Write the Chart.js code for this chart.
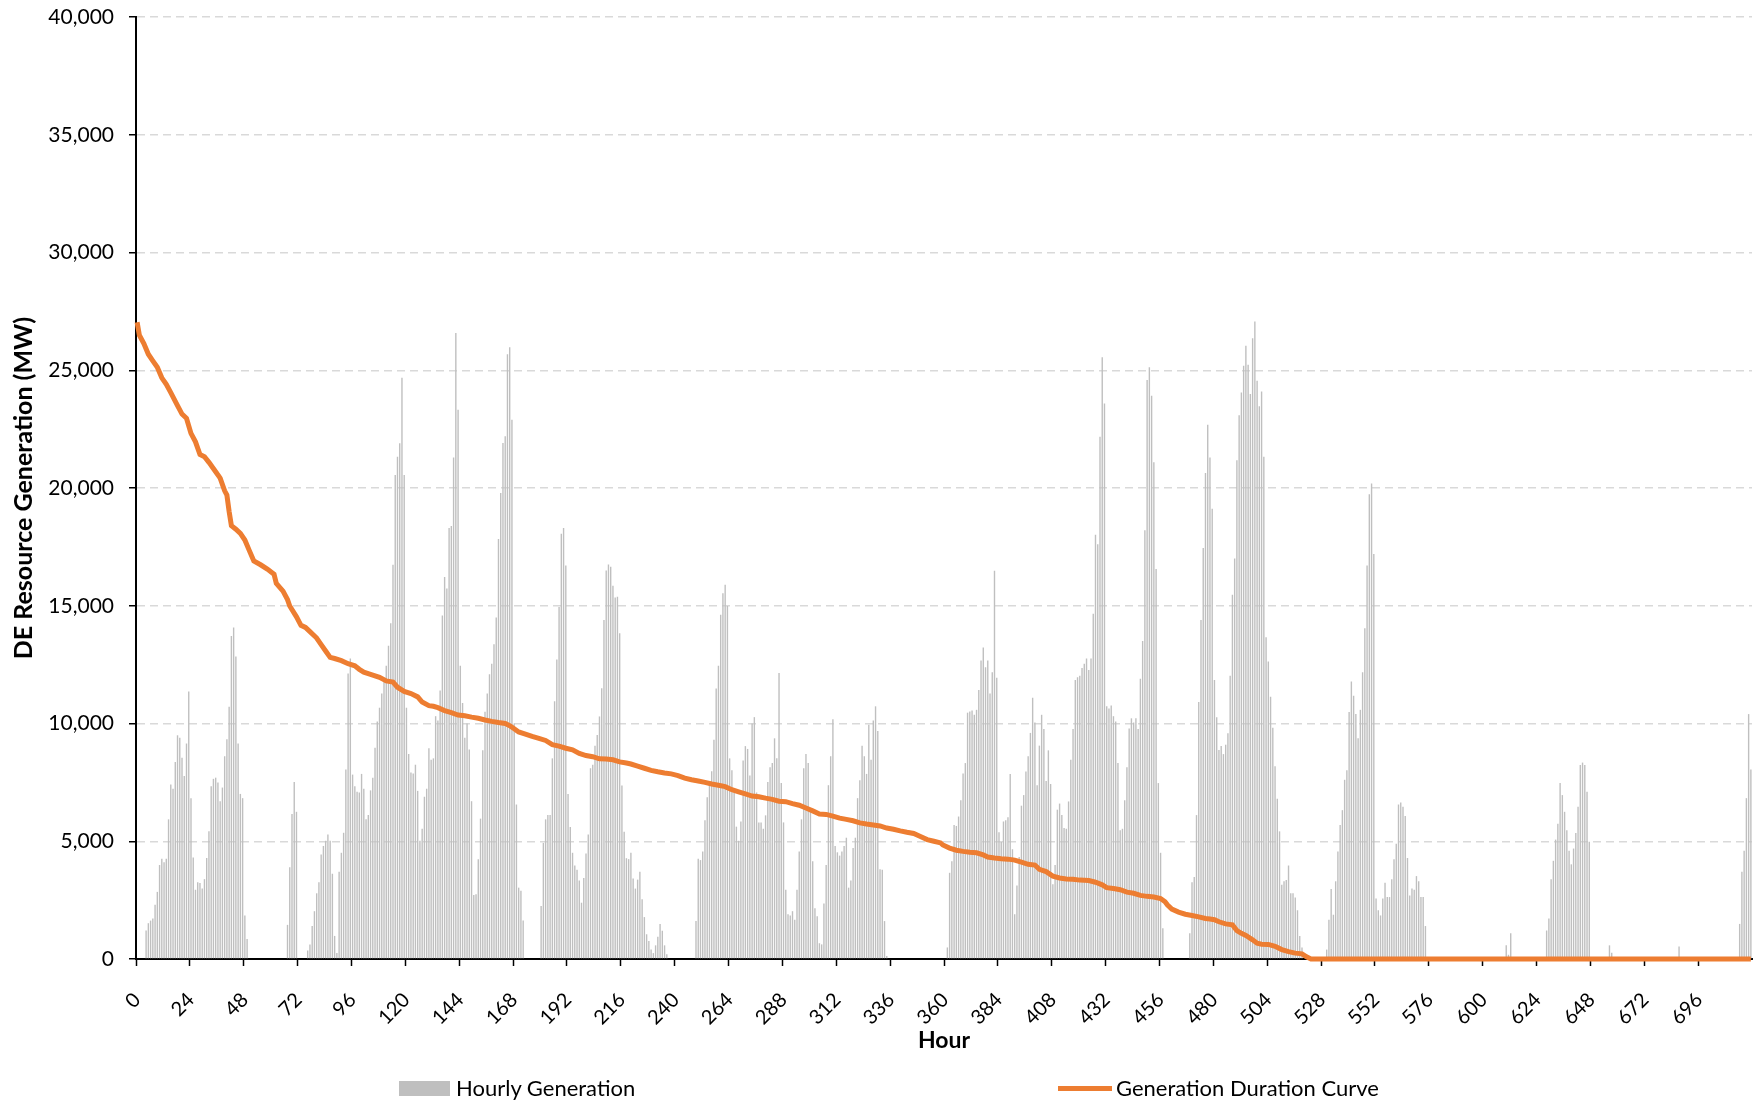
<!DOCTYPE html>
<html>
<head>
<meta charset="utf-8">
<title>DE Resource Generation</title>
<script src="https://cdn.jsdelivr.net/npm/chart.js@4.4.1/dist/chart.umd.min.js"></script>
<style>
  html, body { margin: 0; padding: 0; background: #ffffff; }
  #wrap { position: relative; width: 1754px; height: 1104px; overflow: hidden; }
  #chart { display: block; }
  .lg-swatch { position: absolute; }
  .lg-text { position: absolute; font-family: Lato, "Noto Sans", sans-serif; font-size: 22px; line-height: 30px; color: #000; white-space: nowrap; }
</style>
</head>
<body>
<div id="wrap">
  <canvas id="chart" width="1754" height="1104"></canvas>
  <div class="lg-swatch" style="left:399px; top:1081px; width:51px; height:15px; background:#BFBFBF;"></div>
  <div class="lg-text" style="left:456px; top:1073px;">Hourly Generation</div>
  <div class="lg-swatch" style="left:1058px; top:1086px; width:54px; height:5px; background:#ED7D31;"></div>
  <div class="lg-text" style="left:1116px; top:1073px;">Generation Duration Curve</div>
</div>
<script>
// Hour of the month, one category per hour
const hourLabels = Array.from({ length: 720 }, (_, i) => String(i));

// Hourly DE resource generation (MW), one row per day
const hourlyGeneration = [
  0,0,0,0,1210,1520,1630,1720,2300,2850,3990,4260,4110,4260,5930,7410,7230,8370,9500,9400,8550,7770,9150,11360,
  6830,4310,2940,3260,3230,2990,3390,4290,5420,7340,7650,7700,7500,6700,7280,8610,9330,10710,13720,14080,12850,9150,7010,6830,
  1850,850,0,0,0,0,0,0,0,0,0,0,0,0,0,0,0,0,0,1450,3900,6160,7520,6250,
  0,0,0,0,360,620,1400,2030,2790,3260,4440,4800,5020,5290,5020,3620,980,250,3700,4510,5360,8050,12120,12760,
  7830,7340,7100,7070,7860,7230,5930,6110,7160,7700,8970,10090,10670,11270,11940,12450,13300,14260,16740,20550,21330,21900,24680,20550,
  10670,8700,7920,7880,8250,7140,5020,5530,6890,7230,8950,8460,8520,10310,10130,11400,14590,16220,15730,18300,18390,21290,26580,23320,
  12450,10870,9400,10000,8900,6700,2720,2750,4240,5960,8860,10500,11270,12090,12540,13360,14500,17830,19790,21910,22200,25680,25980,22900,
  10000,6560,3030,2900,1630,0,0,0,0,0,0,0,2250,4930,5930,6110,6110,8520,10950,12720,14950,18060,18300,16710,
  7010,5600,4510,3970,3790,3330,2390,3440,4480,5290,8100,8250,9060,9510,10300,11500,14400,16500,16750,16660,15850,15350,15380,13830,
  7370,5400,4280,4240,4510,3420,2990,3370,3700,2540,1780,1050,760,400,250,580,950,1490,1200,580,200,0,0,0,
  0,0,0,0,0,0,0,0,0,1610,4260,4200,4570,5890,6870,7380,7970,9310,11490,12450,14620,15530,15890,14990,
  8520,8010,7070,5620,5020,5840,8430,9040,8920,7790,10000,10270,7070,5800,5800,5530,6100,7520,8140,8320,9370,8520,12140,7470,
  5800,2940,1900,1850,2030,1670,2940,4570,5930,8100,8700,8320,6290,4150,2160,1810,670,620,2360,3990,7380,8610,10180,4800,
  4530,4390,4570,4800,5150,3030,3330,4710,5150,6830,7590,9060,8610,7860,9950,8460,10130,10730,9680,3810,3790,1610,130,0,
  0,0,0,0,0,0,0,0,0,0,0,0,0,0,0,0,0,0,0,0,0,0,0,0,
  0,490,3660,4150,5690,5650,6050,6740,7880,8320,10460,10510,10550,10370,10580,11420,12670,13230,12390,12670,11270,12180,16490,11940,
  5380,4970,5840,5890,6020,7860,4660,1900,3120,4330,6510,6960,7960,8610,9600,11090,10040,7380,9060,10370,9770,7560,8860,7430,
  3170,3990,6340,6600,6110,5560,5530,6690,8460,9770,11850,11960,12030,12360,12540,12760,12270,12760,14660,18010,17610,22180,25550,23590,
  10730,10640,10760,10310,10090,8320,5470,5530,6740,8140,9790,10220,10040,10220,9770,11900,13500,18210,24590,25130,23920,21090,16560,7470,
  4510,1310,0,0,0,0,0,0,0,0,0,0,0,1090,3260,3480,6110,10910,14390,17450,20640,22690,21290,19120,
  11850,10270,8880,9040,8700,9100,9590,12030,15470,17010,21180,23090,24050,25190,26040,25230,23990,26360,27070,24550,23470,24100,21330,13660,
  12630,11140,9820,8190,6800,5420,3150,3300,3350,3970,2790,2790,2610,2070,980,490,0,0,0,0,0,0,0,0,
  0,0,400,1670,2970,1880,3300,4570,5690,6320,7610,8010,10490,11780,11180,10400,9370,10580,12180,14040,16710,19730,20190,17200,
  2570,2070,1850,2570,3240,2630,2630,3390,4240,4890,6560,6650,6470,6070,4290,2700,2990,2940,3520,3300,2630,2630,1400,0,
  0,0,0,0,0,0,0,0,0,0,0,0,0,0,0,0,0,0,0,0,0,0,0,0,
  0,0,0,0,0,0,0,0,0,0,580,180,1090,0,0,0,0,0,0,0,0,0,0,0,
  0,0,0,0,1210,1720,3390,4170,5070,5740,7470,6960,6250,5470,4600,4020,4690,5350,6470,8240,8340,8240,7100,4980,
  0,0,0,0,0,0,0,0,580,270,0,0,0,0,0,0,0,0,0,0,0,0,0,0,
  0,0,0,0,0,0,0,0,0,0,0,0,0,0,0,530,0,0,0,0,0,0,0,0,
  0,0,0,0,0,0,0,0,0,0,0,0,0,0,0,0,0,0,1490,3700,4600,6830,10400,8050
];

// Generation duration curve: [rank hour, MW]
const durationCurve = [
  [0,27040],[1,26490],[3,26130],[5,25680],[7,25400],[9,25130],[11,24680],[13,24400],[15,24050],[18,23500],
  [20,23140],[22,22960],[24,22320],[26,21960],[28,21420],[30,21330],[32,21090],[35,20690],[37,20420],[39,19880],
  [40,19700],[41,19000],[42,18400],[44,18250],[46,18070],[48,17790],[50,17340],[52,16900],[55,16740],[58,16560],
  [61,16340],[62,15950],[65,15620],[67,15260],[68,14990],[71,14530],[73,14170],[75,14080],[77,13900],[80,13630],
  [82,13350],[84,13080],[86,12810],[88,12760],[91,12670],[94,12540],[97,12450],[99,12300],[101,12180],[104,12090],
  [108,11960],[111,11810],[114,11760],[116,11540],[119,11360],[122,11270],[125,11130],[127,10910],[130,10760],[132,10730],
  [134,10670],[137,10550],[140,10460],[143,10360],[146,10330],[149,10270],[152,10220],[155,10150],[158,10090],[161,10040],
  [164,10000],[166,9910],[168,9780],[170,9640],[173,9550],[176,9450],[179,9370],[182,9280],[185,9100],[188,9040],
  [191,8950],[194,8880],[197,8730],[200,8640],[203,8590],[206,8500],[209,8490],[212,8460],[215,8370],[218,8320],
  [220,8280],[223,8190],[226,8100],[229,8010],[232,7950],[235,7900],[238,7860],[241,7790],[244,7680],[247,7610],
  [250,7560],[253,7500],[256,7430],[259,7380],[262,7320],[265,7190],[268,7100],[271,7010],[274,6920],[277,6890],
  [280,6830],[283,6780],[286,6700],[289,6680],[292,6600],[295,6530],[298,6410],[301,6290],[304,6160],[307,6140],
  [310,6070],[313,5980],[316,5930],[319,5870],[322,5780],[325,5730],[328,5690],[331,5650],[334,5560],[337,5510],
  [340,5440],[343,5380],[346,5330],[349,5200],[352,5070],[355,5000],[358,4930],[359,4840],[362,4710],[365,4620],
  [368,4570],[371,4530],[374,4510],[377,4420],[379,4330],[382,4290],[385,4260],[388,4240],[391,4200],[394,4110],
  [397,4020],[400,3990],[402,3810],[405,3710],[408,3520],[411,3440],[414,3400],[417,3390],[420,3350],[424,3330],
  [427,3260],[430,3150],[432,3030],[435,2990],[438,2940],[441,2840],[444,2790],[447,2700],[450,2660],[453,2630],
  [456,2570],[458,2430],[459,2300],[461,2120],[464,1990],[467,1900],[470,1850],[473,1790],[476,1720],[478,1700],
  [480,1670],[482,1580],[485,1490],[488,1450],[490,1210],[492,1090],[494,1000],[497,815],[499,670],[501,630],
  [504,620],[507,540],[510,400],[513,310],[516,250],[519,220],[521,90],[523,0],[719,0]
];

const yMax = 40000;
const yStep = 5000;
const labelEvery = 24;

const FONT = 'Lato, "Noto Sans", sans-serif';

if (hourlyGeneration.length !== hourLabels.length) {
  throw new Error('hourlyGeneration has ' + hourlyGeneration.length + ' values');
}

// Place the duration-curve points on the hour categories; hours in between are joined by the line
const durationSeries = hourLabels.map(() => null);
durationCurve.forEach(([h, v]) => { durationSeries[h] = v; });

const ctx = document.getElementById('chart').getContext('2d');
new Chart(ctx, {
  type: 'bar',
  data: {
    labels: hourLabels,
    datasets: [
      {
        type: 'line',
        label: 'Generation Duration Curve',
        data: durationSeries,
        spanGaps: true,
        borderColor: '#ED7D31',
        backgroundColor: '#ED7D31',
        borderWidth: 5,
        pointRadius: 0,
        tension: 0,
        fill: false,
        clip: false,
        order: 0
      },
      {
        type: 'bar',
        label: 'Hourly Generation',
        data: hourlyGeneration,
        backgroundColor: '#BFBFBF',
        borderWidth: 0,
        barPercentage: 1.0,
        categoryPercentage: 0.62,
        order: 1
      }
    ]
  },
  options: {
    responsive: false,
    animation: false,
    devicePixelRatio: 1,
    layout: { padding: { top: 17, right: 2, bottom: 45, left: 0 } },
    plugins: {
      legend: { display: false },
      tooltip: { enabled: false }
    },
    scales: {
      x: {
        type: 'category',
        offset: true,
        grid: {
          display: true,
          offset: true,
          drawOnChartArea: false,
          drawTicks: true,
          tickLength: 7,
          tickWidth: 1.5,
          tickColor: (c) => (c.index % labelEvery === 0 ? '#000000' : 'rgba(0,0,0,0)')
        },
        border: { display: true, color: '#000000', width: 2 },
        ticks: {
          autoSkip: false,
          minRotation: 45,
          maxRotation: 45,
          padding: 22,
          color: '#000000',
          font: { family: FONT, size: 20 },
          callback: (value, index) => (index % labelEvery === 0 ? hourLabels[index] : '')
        },
        title: {
          display: true,
          text: 'Hour',
          color: '#000000',
          font: { family: FONT, size: 23, weight: 'bold' },
          padding: { top: 0, bottom: 5 }
        },
        afterFit: (scale) => { scale.height = 100; scale.paddingRight = 0; }
      },
      y: {
        min: 0,
        max: yMax,
        grid: {
          color: (c) => (c.tick && c.tick.value === 0 ? 'rgba(0,0,0,0)' : '#D9D9D9'),
          lineWidth: 1.5,
          drawTicks: true,
          tickLength: 7,
          tickColor: '#000000',
          tickWidth: 1.5
        },
        border: { display: true, color: '#000000', width: 2, dash: [8, 5] },
        ticks: {
          stepSize: yStep,
          padding: 15,
          color: '#000000',
          font: { family: FONT, size: 21 },
          callback: (v) => Number(v).toLocaleString('en-US')
        },
        title: {
          display: true,
          text: 'DE Resource Generation (MW)',
          color: '#000000',
          font: { family: FONT, size: 25, weight: 'bold' },
          padding: { top: 9, bottom: 0 }
        },
        afterFit: (scale) => { scale.width = 136; scale.paddingTop = 0; }
      }
    }
  }
});
</script>
</body>
</html>
